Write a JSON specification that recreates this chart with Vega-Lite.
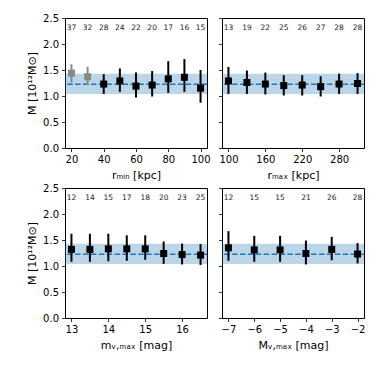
{
  "$schema": "https://vega.github.io/schema/vega-lite/v6.json",
  "padding": {"left": 26, "top": 12, "right": 5, "bottom": 5},
  "bounds": "flush",
  "columns": 2,
  "spacing": {"row": 40, "column": 15},
  "datasets": {
    "band": [{"lo": 1.04, "hi": 1.43, "m": 1.225}],
    "d1": [
      {"x": 20, "m": 1.44, "lo": 1.26, "hi": 1.61, "n": 37, "set": "excluded"},
      {"x": 30, "m": 1.37, "lo": 1.21, "hi": 1.56, "n": 32, "set": "excluded"},
      {"x": 40, "m": 1.23, "lo": 1.04, "hi": 1.42, "n": 28, "set": "used"},
      {"x": 50, "m": 1.29, "lo": 1.08, "hi": 1.53, "n": 24, "set": "used"},
      {"x": 60, "m": 1.19, "lo": 0.97, "hi": 1.45, "n": 22, "set": "used"},
      {"x": 70, "m": 1.21, "lo": 0.99, "hi": 1.48, "n": 20, "set": "used"},
      {"x": 80, "m": 1.33, "lo": 1.06, "hi": 1.67, "n": 17, "set": "used"},
      {"x": 90, "m": 1.36, "lo": 1.08, "hi": 1.71, "n": 16, "set": "used"},
      {"x": 100, "m": 1.15, "lo": 0.87, "hi": 1.50, "n": 15, "set": "used"}
    ],
    "d2": [
      {"x": 100, "m": 1.29, "lo": 1.04, "hi": 1.56, "n": 13, "set": "used"},
      {"x": 130, "m": 1.26, "lo": 1.04, "hi": 1.49, "n": 19, "set": "used"},
      {"x": 160, "m": 1.23, "lo": 1.03, "hi": 1.45, "n": 22, "set": "used"},
      {"x": 190, "m": 1.20, "lo": 1.01, "hi": 1.40, "n": 25, "set": "used"},
      {"x": 220, "m": 1.21, "lo": 1.01, "hi": 1.40, "n": 26, "set": "used"},
      {"x": 250, "m": 1.18, "lo": 0.99, "hi": 1.38, "n": 27, "set": "used"},
      {"x": 280, "m": 1.23, "lo": 1.04, "hi": 1.43, "n": 28, "set": "used"},
      {"x": 310, "m": 1.24, "lo": 1.04, "hi": 1.44, "n": 28, "set": "used"}
    ],
    "d3": [
      {"x": 13, "m": 1.32, "lo": 1.08, "hi": 1.62, "n": 12, "set": "used"},
      {"x": 13.5, "m": 1.32, "lo": 1.08, "hi": 1.62, "n": 14, "set": "used"},
      {"x": 14, "m": 1.33, "lo": 1.09, "hi": 1.62, "n": 15, "set": "used"},
      {"x": 14.5, "m": 1.33, "lo": 1.10, "hi": 1.59, "n": 17, "set": "used"},
      {"x": 15, "m": 1.33, "lo": 1.12, "hi": 1.59, "n": 18, "set": "used"},
      {"x": 15.5, "m": 1.24, "lo": 1.04, "hi": 1.47, "n": 20, "set": "used"},
      {"x": 16, "m": 1.22, "lo": 1.03, "hi": 1.43, "n": 23, "set": "used"},
      {"x": 16.5, "m": 1.21, "lo": 1.02, "hi": 1.42, "n": 25, "set": "used"}
    ],
    "d4": [
      {"x": -7, "m": 1.35, "lo": 1.10, "hi": 1.67, "n": 12, "set": "used"},
      {"x": -6, "m": 1.31, "lo": 1.08, "hi": 1.58, "n": 15, "set": "used"},
      {"x": -5, "m": 1.31, "lo": 1.08, "hi": 1.58, "n": 15, "set": "used"},
      {"x": -4, "m": 1.24, "lo": 1.03, "hi": 1.49, "n": 21, "set": "used"},
      {"x": -3, "m": 1.32, "lo": 1.11, "hi": 1.56, "n": 26, "set": "used"},
      {"x": -2, "m": 1.23, "lo": 1.05, "hi": 1.44, "n": 28, "set": "used"}
    ]
  },
  "concat": [
    {
      "width": 142, "height": 130,
      "layer": [
        {"data": {"name": "band"}, "mark": {"type": "rect", "color": "#1f77b4", "opacity": 0.3},
         "encoding": {"y": {"field": "lo", "type": "quantitative", "scale": {"domain": [0, 2.5], "nice": false}, "title": "M [10¹²M⊙]", "axis": {"values": [0, 0.5, 1, 1.5, 2, 2.5], "tickCount": 12, "format": ".1f"}}, "y2": {"field": "hi"}}},
        {"data": {"name": "band"}, "mark": {"type": "rule", "color": "#1f77b4", "strokeDash": [5.5, 2.4], "strokeWidth": 1.5},
         "encoding": {"y": {"field": "m", "type": "quantitative", "scale": {"domain": [0, 2.5], "nice": false}, "title": "M [10¹²M⊙]", "axis": {"values": [0, 0.5, 1, 1.5, 2, 2.5], "tickCount": 12, "format": ".1f"}}}},
        {
          "data": {"name": "d1"},
          "encoding": {"x": {"field": "x", "type": "quantitative", "scale": {"domain": [16, 104], "nice": false, "zero": false}, "title": "rₘᵢₙ [kpc]", "axis": {"values": [20, 40, 60, 80, 100], "tickCount": 12, "format": "d"}}},
          "layer": [
            {"mark": {"type": "rule", "strokeWidth": 2},
             "encoding": {"y": {"field": "lo", "type": "quantitative", "scale": {"domain": [0, 2.5], "nice": false}, "title": "M [10¹²M⊙]", "axis": {"values": [0, 0.5, 1, 1.5, 2, 2.5], "tickCount": 12, "format": ".1f"}}, "y2": {"field": "hi"},
               "color": {"field": "set", "type": "nominal", "scale": {"domain": ["used", "excluded"], "range": ["black", "#888888"]}, "legend": null}}},
            {"mark": {"type": "square", "size": 49, "opacity": 1},
             "encoding": {"y": {"field": "m", "type": "quantitative", "scale": {"domain": [0, 2.5], "nice": false}, "title": "M [10¹²M⊙]", "axis": {"values": [0, 0.5, 1, 1.5, 2, 2.5], "tickCount": 12, "format": ".1f"}},
               "color": {"field": "set", "type": "nominal", "scale": {"domain": ["used", "excluded"], "range": ["black", "#888888"]}, "legend": null}}},
            {"mark": {"type": "text", "fontSize": 7.5, "color": "#222222", "font": "DejaVu Sans"},
             "encoding": {"y": {"datum": 2.31, "type": "quantitative"}, "text": {"field": "n"}}}
          ]
        }
      ]
    },
    {
      "width": 142, "height": 130,
      "layer": [
        {"data": {"name": "band"}, "mark": {"type": "rect", "color": "#1f77b4", "opacity": 0.3},
         "encoding": {"y": {"field": "lo", "type": "quantitative", "scale": {"domain": [0, 2.5], "nice": false}, "title": null, "axis": {"values": [0, 0.5, 1, 1.5, 2, 2.5], "tickCount": 12, "labels": false}}, "y2": {"field": "hi"}}},
        {"data": {"name": "band"}, "mark": {"type": "rule", "color": "#1f77b4", "strokeDash": [5.5, 2.4], "strokeWidth": 1.5},
         "encoding": {"y": {"field": "m", "type": "quantitative", "scale": {"domain": [0, 2.5], "nice": false}, "title": null, "axis": {"values": [0, 0.5, 1, 1.5, 2, 2.5], "tickCount": 12, "labels": false}}}},
        {
          "data": {"name": "d2"},
          "encoding": {"x": {"field": "x", "type": "quantitative", "scale": {"domain": [89.5, 320.5], "nice": false, "zero": false}, "title": "rₘₐₓ [kpc]", "axis": {"values": [100, 160, 220, 280], "tickCount": 12, "format": "d"}}},
          "layer": [
            {"mark": {"type": "rule", "strokeWidth": 2, "color": "black"},
             "encoding": {"y": {"field": "lo", "type": "quantitative", "scale": {"domain": [0, 2.5], "nice": false}, "title": null, "axis": {"values": [0, 0.5, 1, 1.5, 2, 2.5], "tickCount": 12, "labels": false}}, "y2": {"field": "hi"}}},
            {"mark": {"type": "square", "size": 49, "opacity": 1, "color": "black"},
             "encoding": {"y": {"field": "m", "type": "quantitative", "scale": {"domain": [0, 2.5], "nice": false}, "title": null, "axis": {"values": [0, 0.5, 1, 1.5, 2, 2.5], "tickCount": 12, "labels": false}}}},
            {"mark": {"type": "text", "fontSize": 7.5, "color": "#222222", "font": "DejaVu Sans"},
             "encoding": {"y": {"datum": 2.31, "type": "quantitative"}, "text": {"field": "n"}}}
          ]
        }
      ]
    },
    {
      "width": 142, "height": 130,
      "layer": [
        {"data": {"name": "band"}, "mark": {"type": "rect", "color": "#1f77b4", "opacity": 0.3},
         "encoding": {"y": {"field": "lo", "type": "quantitative", "scale": {"domain": [0, 2.5], "nice": false}, "title": "M [10¹²M⊙]", "axis": {"values": [0, 0.5, 1, 1.5, 2, 2.5], "tickCount": 12, "format": ".1f"}}, "y2": {"field": "hi"}}},
        {"data": {"name": "band"}, "mark": {"type": "rule", "color": "#1f77b4", "strokeDash": [5.5, 2.4], "strokeWidth": 1.5},
         "encoding": {"y": {"field": "m", "type": "quantitative", "scale": {"domain": [0, 2.5], "nice": false}, "title": "M [10¹²M⊙]", "axis": {"values": [0, 0.5, 1, 1.5, 2, 2.5], "tickCount": 12, "format": ".1f"}}}},
        {
          "data": {"name": "d3"},
          "encoding": {"x": {"field": "x", "type": "quantitative", "scale": {"domain": [12.825, 16.675], "nice": false, "zero": false}, "title": "mᵥ,ₘₐₓ [mag]", "axis": {"values": [13, 14, 15, 16], "tickCount": 12, "format": "d"}}},
          "layer": [
            {"mark": {"type": "rule", "strokeWidth": 2, "color": "black"},
             "encoding": {"y": {"field": "lo", "type": "quantitative", "scale": {"domain": [0, 2.5], "nice": false}, "title": "M [10¹²M⊙]", "axis": {"values": [0, 0.5, 1, 1.5, 2, 2.5], "tickCount": 12, "format": ".1f"}}, "y2": {"field": "hi"}}},
            {"mark": {"type": "square", "size": 49, "opacity": 1, "color": "black"},
             "encoding": {"y": {"field": "m", "type": "quantitative", "scale": {"domain": [0, 2.5], "nice": false}, "title": "M [10¹²M⊙]", "axis": {"values": [0, 0.5, 1, 1.5, 2, 2.5], "tickCount": 12, "format": ".1f"}}}},
            {"mark": {"type": "text", "fontSize": 7.5, "color": "#222222", "font": "DejaVu Sans"},
             "encoding": {"y": {"datum": 2.31, "type": "quantitative"}, "text": {"field": "n"}}}
          ]
        }
      ]
    },
    {
      "width": 142, "height": 130,
      "layer": [
        {"data": {"name": "band"}, "mark": {"type": "rect", "color": "#1f77b4", "opacity": 0.3},
         "encoding": {"y": {"field": "lo", "type": "quantitative", "scale": {"domain": [0, 2.5], "nice": false}, "title": null, "axis": {"values": [0, 0.5, 1, 1.5, 2, 2.5], "tickCount": 12, "labels": false}}, "y2": {"field": "hi"}}},
        {"data": {"name": "band"}, "mark": {"type": "rule", "color": "#1f77b4", "strokeDash": [5.5, 2.4], "strokeWidth": 1.5},
         "encoding": {"y": {"field": "m", "type": "quantitative", "scale": {"domain": [0, 2.5], "nice": false}, "title": null, "axis": {"values": [0, 0.5, 1, 1.5, 2, 2.5], "tickCount": 12, "labels": false}}}},
        {
          "data": {"name": "d4"},
          "encoding": {"x": {"field": "x", "type": "quantitative", "scale": {"domain": [-7.25, -1.75], "nice": false, "zero": false}, "title": "Mᵥ,ₘₐₓ [mag]", "axis": {"values": [-7, -6, -5, -4, -3, -2], "tickCount": 12, "format": "d"}}},
          "layer": [
            {"mark": {"type": "rule", "strokeWidth": 2, "color": "black"},
             "encoding": {"y": {"field": "lo", "type": "quantitative", "scale": {"domain": [0, 2.5], "nice": false}, "title": null, "axis": {"values": [0, 0.5, 1, 1.5, 2, 2.5], "tickCount": 12, "labels": false}}, "y2": {"field": "hi"}}},
            {"mark": {"type": "square", "size": 49, "opacity": 1, "color": "black"},
             "encoding": {"y": {"field": "m", "type": "quantitative", "scale": {"domain": [0, 2.5], "nice": false}, "title": null, "axis": {"values": [0, 0.5, 1, 1.5, 2, 2.5], "tickCount": 12, "labels": false}}}},
            {"mark": {"type": "text", "fontSize": 7.5, "color": "#222222", "font": "DejaVu Sans"},
             "encoding": {"y": {"datum": 2.31, "type": "quantitative"}, "text": {"field": "n"}}}
          ]
        }
      ]
    }
  ],
  "config": {
    "font": "DejaVu Sans",
    "view": {"stroke": "black", "strokeWidth": 1},
    "axis": {
      "grid": false,
      "domain": false,
      "ticks": true,
      "tickColor": "black",
      "tickSize": 3.5,
      "tickWidth": 0.8,
      "labelFont": "DejaVu Sans",
      "labelFontSize": 10,
      "labelColor": "black",
      "labelPadding": 3,
      "titleFont": "DejaVu Sans",
      "titleFontSize": 11,
      "titleFontWeight": "normal",
      "titleColor": "black",
      "titlePadding": 5,
      "labelFlush": false,
      "labelOverlap": false
    }
  }
}
